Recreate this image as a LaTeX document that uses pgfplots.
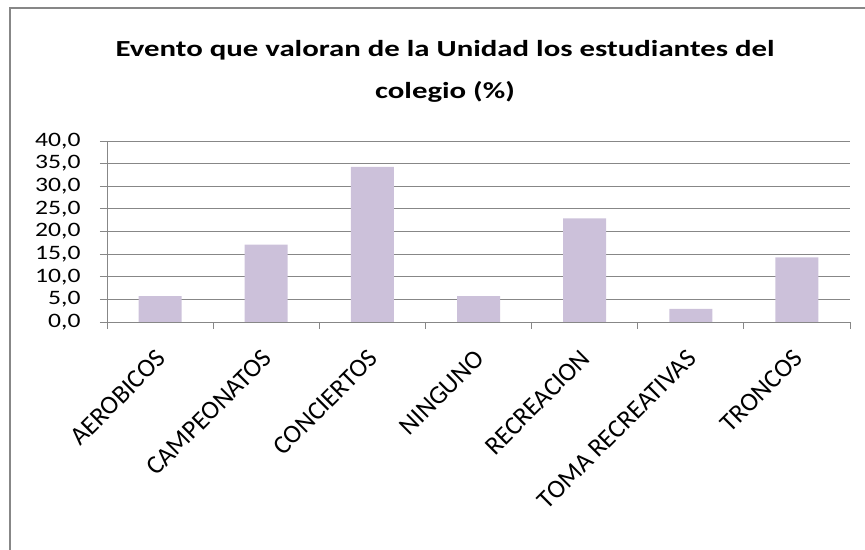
\documentclass[border=0pt]{standalone}
\usepackage{pgfplots}
\pgfplotsset{compat=1.18}
\usepackage{fontspec}
\setmainfont{Carlito}
\newfontfamily\titlefont[FakeStretch=1.34]{Carlito}
\newfontfamily\tickfont[FakeStretch=1.25]{Carlito}
\definecolor{barfill}{HTML}{CCC1DA}
\definecolor{gridgray}{HTML}{878787}

\begin{document}
\begin{tikzpicture}
\useasboundingbox (0bp,0bp) rectangle (865bp,550bp);
\draw[gridgray, line width=1.5bp] (10bp,0bp) -- (10bp,542bp) -- (865bp,542bp);
\node[font=\titlefont\bfseries\fontsize{23bp}{42bp}\selectfont, align=center] at (445bp,479bp)
  {Evento que valoran de la Unidad los estudiantes del\\colegio (\%)};
\begin{axis}[
  at={(107bp,228bp)}, anchor=south west,
  scale only axis, width=743bp, height=181bp,
  ymin=0, ymax=40, ytick distance=5,
  xmin=-0.5, xmax=6.5,
  xtick={0,...,6},
  xticklabels={AEROBICOS, CAMPEONATOS, CONCIERTOS, NINGUNO, RECREACION, TOMA RECREATIVAS, TRONCOS},
  xtick style={draw=none},
  extra x ticks={-0.5,0.5,...,6.5},
  extra x tick labels={},
  extra x tick style={xtick style={draw=gridgray, line width=0.8bp}, major tick length=7bp, grid=none},
  x tick label style={yshift=-19bp, xshift=-5bp, rotate=45, anchor=north east, inner sep=0pt,
    font=\fontsize{26bp}{26bp}\selectfont},
  y tick label style={font=\tickfont\fontsize{20.5bp}{20bp}\selectfont, xshift=-16bp},
  /pgf/number format/assume math mode=true,
  yticklabel style={/pgf/number format/.cd, fixed, fixed zerofill, precision=1, use comma},
  tick align=outside, major tick length=7bp,
  ytick style={draw=gridgray, line width=0.8bp},
  axis x line*=bottom, axis y line*=left,
  axis line style={gridgray, line width=0.8bp, -},
  ymajorgrids, grid style={gridgray, line width=0.8bp},
  ybar, bar width=43bp,
]
\addplot[fill=barfill, draw=none] coordinates {
  (0,5.7) (1,17.1) (2,34.3) (3,5.7) (4,22.9) (5,2.9) (6,14.3)
};
\end{axis}
\end{tikzpicture}
\end{document}
